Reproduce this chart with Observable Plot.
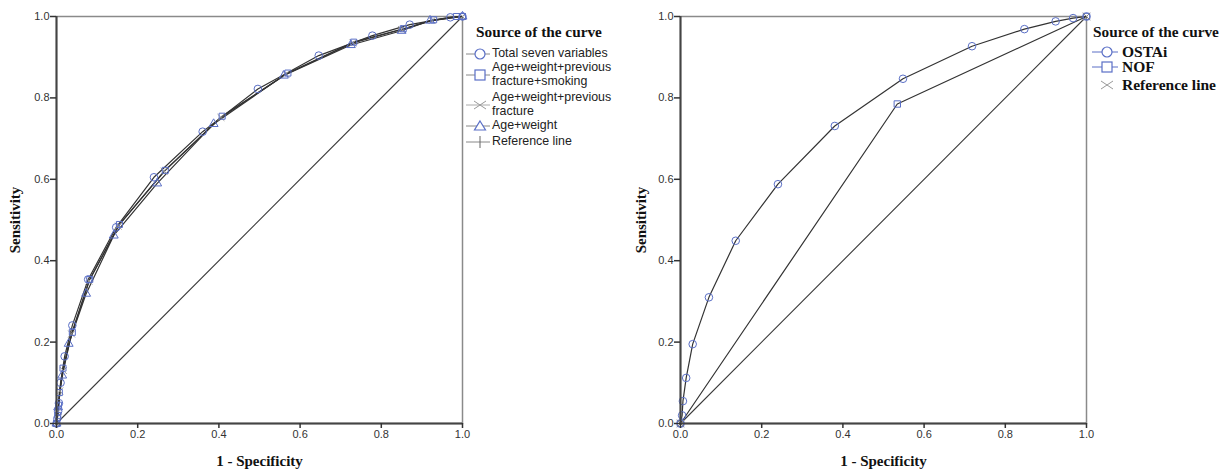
<!DOCTYPE html>
<html><head><meta charset="utf-8">
<script src="https://cdn.jsdelivr.net/npm/d3@7"></script>
<script src="https://cdn.jsdelivr.net/npm/@observablehq/plot@0.6"></script>
<style>
body{margin:0;background:#fff;}
#wrap{position:relative;width:1222px;height:470px;overflow:hidden;background:#fff;}
.panel{position:absolute;top:0;}
.lg-title{position:absolute;font-family:"Liberation Serif","Times New Roman",serif;font-weight:bold;font-size:15.3px;color:#111;white-space:nowrap;line-height:16px;}
.lg-item{position:absolute;display:flex;align-items:center;white-space:nowrap;}
.lg-item svg{flex:none;}
.lg-sans{font-family:"Liberation Sans",Arial,sans-serif;font-size:12.4px;color:#222;line-height:13.5px;}
.lg-serif{font-family:"Liberation Serif","Times New Roman",serif;font-weight:bold;font-size:15.5px;color:#111;line-height:16px;}
</style></head>
<body><div id="wrap"></div>
<script>
// ---------- data ----------
const xTicks = [0, 0.2, 0.4, 0.6, 0.8, 1.0];
const yTicks = [0, 0.2, 0.4, 0.6, 0.8, 1.0];

// Left panel: [1 - specificity, sensitivity]
const totalSeven = [[0,0],[0.002,0.012],[0.004,0.03],[0.006,0.05],[0.01,0.1],[0.02,0.165],[0.039,0.241],[0.078,0.354],[0.147,0.482],[0.24,0.605],[0.36,0.717],[0.496,0.822],[0.646,0.904],[0.778,0.953],[0.87,0.98],[0.97,0.998],[1,1]];
const ageWeightFracSmoke = [[0,0],[0.003,0.02],[0.005,0.045],[0.007,0.076],[0.016,0.136],[0.039,0.224],[0.082,0.354],[0.155,0.489],[0.268,0.622],[0.408,0.755],[0.57,0.861],[0.732,0.937],[0.854,0.97],[0.929,0.992],[0.985,1],[1,1]];
const ageWeightFrac = [[0,0],[0.004,0.03],[0.008,0.08],[0.017,0.13],[0.037,0.22],[0.08,0.35],[0.152,0.485],[0.265,0.62],[0.405,0.752],[0.565,0.858],[0.73,0.935],[0.85,0.968],[0.925,0.99],[1,1]];
const ageWeight = [[0,0],[0.004,0.04],[0.014,0.118],[0.03,0.196],[0.073,0.319],[0.141,0.462],[0.248,0.59],[0.387,0.736],[0.56,0.855],[0.725,0.93],[0.85,0.965],[0.92,0.99],[1,1]];
const referenceLine = [[0,0],[1,1]];

// Right panel
const ostai = [[0,0],[0.004,0.02],[0.006,0.055],[0.014,0.112],[0.03,0.195],[0.07,0.31],[0.136,0.449],[0.24,0.588],[0.38,0.731],[0.548,0.847],[0.718,0.927],[0.847,0.969],[0.924,0.988],[0.967,0.996],[1,1]];
const nof = [[0,0],[0.534,0.785],[1,1]];

const leftNames = ["Total seven variables", "Age+weight+previous\nfracture+smoking", "Age+weight+previous\nfracture", "Age+weight", "Reference line"];
const rightNames = ["OSTAi", "NOF", "Reference line"];

// ---------- styling ----------
const BLUE = "#5a6fc6";
const LINE = "#333";

function rows(arr, name) { return arr.map(([x, y]) => ({x, y, name})); }

function makePanel({curves, ref, marginLeft, marginRight, yLabelOffset}) {
  const marks = [
    Plot.frame({stroke: "#8a8a8a", strokeWidth: 1.5}),
    Plot.line(rows(ref.data, "ref"), {x: "x", y: "y", stroke: "#3a3a3a", strokeWidth: 1.1}),
  ];
  for (const c of curves) {
    marks.push(Plot.line(rows(c.data, c.name), {x: "x", y: "y", stroke: LINE, strokeWidth: c.sw || 1.2}));
  }
  for (const c of curves) {
    marks.push(Plot.dot(rows(c.data, c.name), {x: "x", y: "y", symbol: c.symbol, r: c.r || 3.6, stroke: c.color || BLUE, strokeWidth: 1, fill: "none"}));
  }
  if (ref.symbol) marks.push(Plot.dot(rows(ref.data, "ref"), {x: "x", y: "y", symbol: ref.symbol, r: 3.5, stroke: "#888", strokeWidth: 1}));
  marks.push(
    Plot.ruleX([0], {stroke: "#444", strokeWidth: 2}),
    Plot.ruleY([0], {stroke: "#444", strokeWidth: 2}),
    Plot.axisX({ticks: xTicks, tickFormat: d3.format(".1f"), tickSize: 5, tickPadding: 2, label: "1 - Specificity", labelAnchor: "center", labelArrow: "none", labelOffset: 42, strokeWidth: 1.5}),
    Plot.axisY({ticks: yTicks, tickFormat: d3.format(".1f"), tickSize: 6, tickPadding: 1, label: "Sensitivity", labelAnchor: "center", labelArrow: "none", labelOffset: yLabelOffset, strokeWidth: 1.5})
  );
  const svg = Plot.plot({
    width: 611, height: 470,
    marginLeft, marginRight, marginTop: 16, marginBottom: 47,
    x: {domain: [0, 1]},
    y: {domain: [0, 1]},
    style: {fontFamily: "'Liberation Sans', Arial, sans-serif", fontSize: "11px", color: "#333", background: "white"},
    marks
  });
  svg.querySelectorAll('[aria-label="x-axis label"] text, [aria-label="y-axis label"] text').forEach(t => {
    t.setAttribute("font-family", "'Liberation Serif', 'Times New Roman', serif");
    t.setAttribute("font-weight", "bold");
    t.setAttribute("font-size", "15px");
    t.setAttribute("fill", "#111");
    t.style.fontFamily = "'Liberation Serif', 'Times New Roman', serif";
    t.style.fontSize = "15px";
    t.style.fontWeight = "bold";
  });
  return svg;
}

const wrap = document.getElementById("wrap");

const left = makePanel({
  curves: [
    {name: leftNames[2], data: ageWeightFrac, symbol: "times", color: "#999", r: 3.2},
    {name: leftNames[3], data: ageWeight, symbol: "triangle", r: 3.3},
    {name: leftNames[1], data: ageWeightFracSmoke, symbol: "square", r: 3.4},
    {name: leftNames[0], data: totalSeven, symbol: "circle", r: 3.8},
  ],
  ref: {data: referenceLine},
  marginLeft: 56, marginRight: 149, yLabelOffset: 47
});
left.classList.add("panel"); left.style.left = "0px";
wrap.appendChild(left);

const right = makePanel({
  curves: [
    {name: rightNames[1], data: nof, symbol: "square", r: 3.6},
    {name: rightNames[0], data: ostai, symbol: "circle", r: 3.8},
  ],
  ref: {data: referenceLine, symbol: "times"},
  marginLeft: 69, marginRight: 136, yLabelOffset: 45
});
right.classList.add("panel"); right.style.left = "611px";
wrap.appendChild(right);

// ---------- legends (HTML) ----------
function symbolSvg(kind, color, lineColor, w) {
  const h = 14, cx = w / 2 + 2, cy = 7;
  let s = `<svg width="${w}" height="${h}" viewBox="0 0 ${w} ${h}"><line x1="0" x2="${w}" y1="${cy}" y2="${cy}" stroke="${lineColor}" stroke-width="1"/>`;
  if (kind === "circle") s += `<circle cx="${cx}" cy="${cy}" r="5" fill="white" stroke="${color}" stroke-width="1.2"/>`;
  if (kind === "square") s += `<rect x="${cx-5}" y="${cy-5}" width="10" height="10" fill="white" stroke="${color}" stroke-width="1.2"/>`;
  if (kind === "triangle") s += `<path d="M${cx},${cy-5}L${cx+5.5},${cy+4}L${cx-5.5},${cy+4}Z" fill="white" stroke="${color}" stroke-width="1.2"/>`;
  if (kind === "times") s += `<path d="M${cx-6},${cy-4}L${cx+6},${cy+4}M${cx-6},${cy+4}L${cx+6},${cy-4}" stroke="${color}" stroke-width="1"/>`;
  if (kind === "plus") s += `<path d="M${cx},${cy-6}L${cx},${cy+6}" stroke="${color}" stroke-width="1"/>`;
  return s + `</svg>`;
}

function legend(x, titleX, titleTop, items, cls, symW, gap) {
  const t = document.createElement("div");
  t.className = "lg-title";
  t.style.left = titleX + "px"; t.style.top = titleTop + "px";
  t.textContent = "Source of the curve";
  wrap.appendChild(t);
  for (const it of items) {
    const d = document.createElement("div");
    d.className = "lg-item " + cls;
    d.style.left = x + "px"; d.style.top = it.top + "px";
    d.innerHTML = symbolSvg(it.kind, it.color, it.lineColor, symW) +
      `<span style="margin-left:${gap}px">${it.label.replace(/\n/g, "<br>")}</span>`;
    wrap.appendChild(d);
  }
}

legend(466, 476, 24, [
  {label: leftNames[0], kind: "circle", color: BLUE, lineColor: "#888", top: 47},
  {label: leftNames[1], kind: "square", color: BLUE, lineColor: "#888", top: 61},
  {label: leftNames[2], kind: "times", color: "#999", lineColor: "#aaa", top: 91},
  {label: leftNames[3], kind: "triangle", color: BLUE, lineColor: "#888", top: 119},
  {label: leftNames[4], kind: "plus", color: "#666", lineColor: "#888", top: 135},
], "lg-sans", 24, 2);

legend(1092, 1093, 24, [
  {label: rightNames[0], kind: "circle", color: BLUE, lineColor: BLUE, top: 44},
  {label: rightNames[1], kind: "square", color: BLUE, lineColor: BLUE, top: 59},
  {label: rightNames[2], kind: "times", color: "#999", lineColor: "#fff", top: 77},
], "lg-serif", 26, 4);
</script>
</body></html>
